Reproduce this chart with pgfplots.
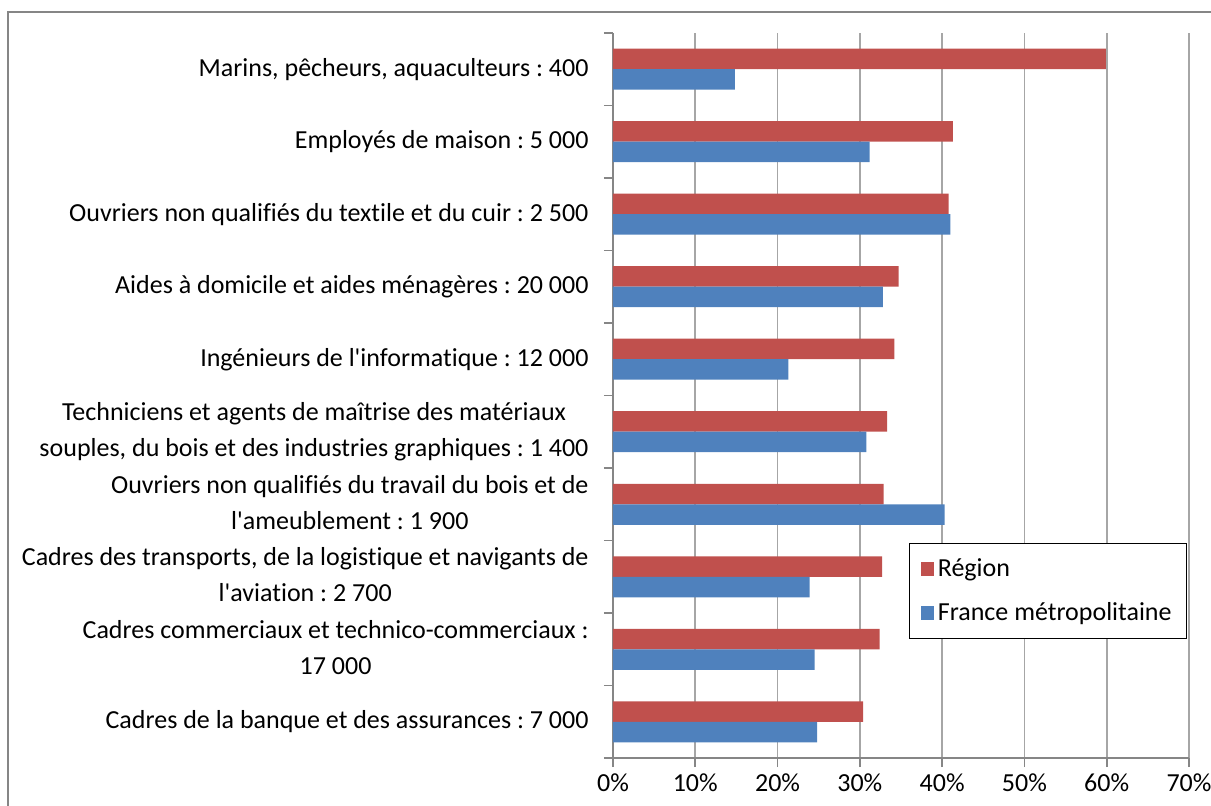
\documentclass[border=0pt]{standalone}
\usepackage{fontspec}
\setmainfont{Carlito}[Ligatures=NoCommon]
\usepackage{pgfplots}
\pgfplotsset{compat=1.18}
\definecolor{reg}{HTML}{C0504D}
\definecolor{fra}{HTML}{4F81BD}
\definecolor{gridc}{HTML}{A6A6A6}
\definecolor{axc}{HTML}{868686}
\newcommand{\two}[2]{\begin{tabular}{@{}c@{}}#1\\#2\end{tabular}}
\begin{document}
\frenchspacing
\begin{tikzpicture}
\begin{axis}[
  at={(306.5pt,23.5pt)}, anchor=south west,
  scale only axis, width=288pt, height=362.5pt,
  xbar, bar width=10.25pt,
  xmin=0, xmax=70, ymin=-0.5, ymax=9.5,
  xtick={0,10,...,70},
  xticklabel={\pgfmathprintnumber{\tick}\%},
  xmajorgrids, ymajorgrids=false,
  major grid style={gridc, line width=0.8pt},
  axis x line*=bottom, axis y line*=left,
  axis line style={axc, line width=0.8pt, -},
  tick align=outside, major tick length=4.5pt,
  tick style={axc, line width=0.8pt},
  ytick={-0.5,0.5,...,9.5},
  yticklabel={\mbox{}},
  extra y ticks={0,1,2,3,4,5,6,7,8,9},
  extra y tick labels={
    {Cadres de la banque et des assurances : 7~000},
    {\two{Cadres commerciaux et technico-commerciaux :}{17~000}},
    {\two{Cadres des transports, de la logistique et navigants de}{l\textquotesingle aviation : 2~700}},
    {\two{Ouvriers non qualifiés du travail du bois et de}{l\textquotesingle ameublement : 1~900}},
    {\two{Techniciens et agents de maîtrise des matériaux}{souples, du bois et des industries graphiques : 1~400}},
    {Ingénieurs de l\textquotesingle informatique : 12~000},
    {Aides à domicile et aides ménagères : 20~000},
    {Ouvriers non qualifiés du textile et du cuir : 2~500},
    {Employés de maison : 5~000},
    {Marins, pêcheurs, aquaculteurs : 400}},
  extra y tick style={major tick length=0pt, tick style={draw=none},
    yticklabel style={anchor=east, font=\fontsize{13}{18}\selectfont, xshift=-8.7pt}},
  xticklabel style={font=\fontsize{13}{15}\selectfont},
  /pgf/number format/assume math mode=true,
  legend style={at={(0.514,0.2966)}, anchor=north west, draw=black, line width=0.6pt,
    fill=white, font=\fontsize{13}{15}\selectfont, inner xsep=5.5pt, inner ysep=5.5pt,
    row sep=7.5pt, cells={anchor=west},
    /tikz/every even column/.append style={column sep=4.5pt}},
  legend image code/.code={\fill[#1] (0pt,-3.3pt) rectangle (6.6pt,3.3pt);},
]
\addplot[xbar, bar shift=5.125pt, fill=reg, draw=none] coordinates {
  (30.4,0) (32.4,1) (32.7,2) (32.9,3) (33.3,4) (34.2,5) (34.7,6) (40.8,7) (41.3,8) (59.9,9)};
\addlegendentry{Région}
\addplot[xbar, bar shift=-5.125pt, fill=fra, draw=none] coordinates {
  (24.8,0) (24.5,1) (23.9,2) (40.3,3) (30.8,4) (21.3,5) (32.8,6) (41.0,7) (31.2,8) (14.8,9)};
\addlegendentry{France métropolitaine}
\end{axis}
\draw[axc, line width=0.8pt] (4pt,-2pt) -- (4pt,396.5pt) -- (610pt,396.5pt);
\pgfresetboundingbox
\useasboundingbox (0,0) rectangle (605.5pt,402.5pt);
\end{tikzpicture}
\end{document}
